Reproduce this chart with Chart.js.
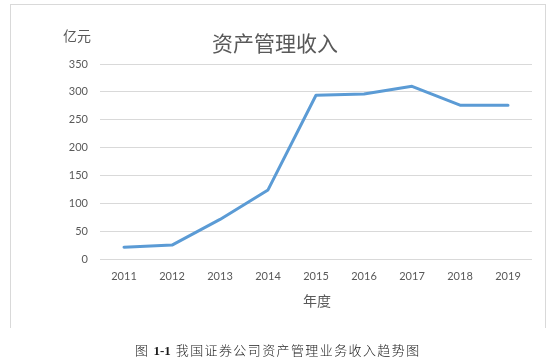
<!DOCTYPE html>
<html><head><meta charset="utf-8">
<script src="https://cdn.jsdelivr.net/npm/chart.js@4/dist/chart.umd.min.js"></script>
<style>
html,body{margin:0;padding:0;background:#fff;width:555px;height:362px;overflow:hidden;position:relative;font-family:"Noto Sans CJK SC",sans-serif;}
#box{position:absolute;left:10px;top:4px;width:536px;height:324px;border:1px solid #d9d9d9;border-bottom:none;box-sizing:border-box;}
#wrap{position:absolute;left:0;top:0;width:555px;height:362px;}
.t{position:absolute;white-space:nowrap;color:#595959;line-height:1;}
#title{left:275px;top:42px;transform:translate(-50%,-50%);font-size:21px;}
#unit{left:77px;top:35px;transform:translate(-50%,-50%);font-size:14px;}
#xt{left:317px;top:300px;transform:translate(-50%,-50%);font-size:14px;}
#cap{left:135px;top:350px;transform:translateY(-50%);font-size:13px;color:#1a1a1a;font-family:"Noto Sans CJK SC",serif;}
#cap .n{font-family:"Liberation Serif",serif;font-weight:bold;margin:0 5px 0 4px;font-size:13px;}
#cap .s{letter-spacing:1.4px;font-weight:300;}
</style></head>
<body>
<div id="box"></div>
<div id="wrap"><canvas id="c" width="555" height="362"></canvas></div>
<div class="t" id="title">资产管理收入</div>
<div class="t" id="unit">亿元</div>
<div class="t" id="xt">年度</div>
<div class="t" id="cap"><span class="s">图</span><span class="n">1-1</span><span class="s">我国证券公司资产管理业务收入趋势图</span></div>
<script>
const years = ["2011","2012","2013","2014","2015","2016","2017","2018","2019"];
const income = [21, 25, 71, 124, 294, 296, 310, 276, 276];
const yTicks = [0, 50, 100, 150, 200, 250, 300, 350];

new Chart(document.getElementById('c'), {
  type: 'line',
  data: {
    labels: years,
    datasets: [{
      data: income,
      borderColor: '#5b9bd5',
      backgroundColor: '#5b9bd5',
      borderWidth: 3,
      pointRadius: 0,
      tension: 0,
      borderCapStyle: 'round',
      borderJoinStyle: 'round'
    }]
  },
  options: {
    responsive: false,
    animation: false,
    devicePixelRatio: 1,
    layout: { padding: { left: 0, right: 23, top: 64, bottom: 0 } },
    plugins: { legend: { display: false }, title: { display: false }, tooltip: { enabled: false } },
    scales: {
      x: {
        offset: true,
        grid: { display: false, drawTicks: false },
        border: { display: false },
        ticks: { color: '#595959', font: { family: 'Lato, "Noto Sans", sans-serif', size: 11 }, padding: 11, maxRotation: 0 },
        afterFit: s => { s.height = 103; }
      },
      y: {
        min: 0, max: 350,
        afterBuildTicks: s => { s.ticks = yTicks.map(v => ({ value: v })); },
        grid: { color: '#d9d9d9', lineWidth: 1, drawTicks: false },
        border: { display: false },
        ticks: { color: '#595959', font: { family: 'Lato, "Noto Sans", sans-serif', size: 11 }, padding: 12 },
        afterFit: s => { s.width = 100; }
      }
    }
  }
});
</script>
</body></html>
